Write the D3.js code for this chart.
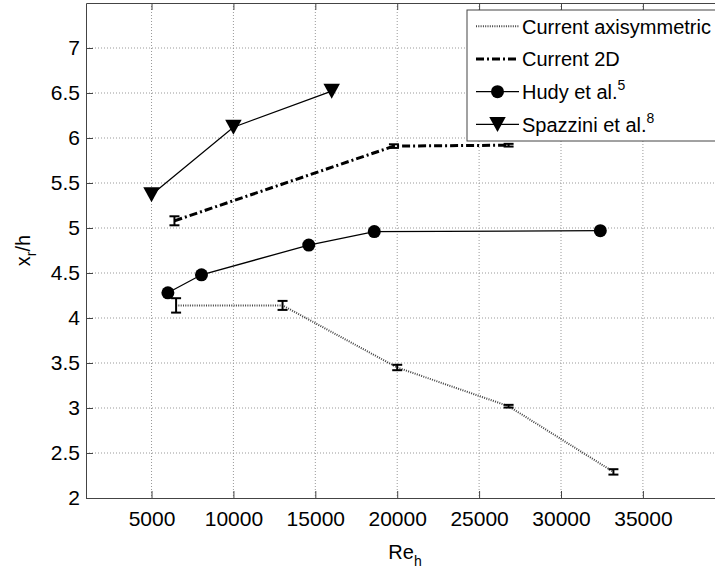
<!DOCTYPE html>
<html>
<head>
<meta charset="utf-8">
<script src="https://cdn.jsdelivr.net/npm/d3@7"></script>
<style>
  body { margin: 0; background: #fff; }
  svg { display: block; font-family: 'Liberation Sans', Arial, sans-serif; }
</style>
</head>
<body>
<div id="chart-area"></div>
<script>
// reattachment length vs Reynolds number
const axiRe = [6500, 13000, 20000, 26800, 33200]
const axiXr = [4.14, 4.14, 3.45, 3.02, 2.29]
const axiErr = [0.08, 0.05, 0.03, 0.015, 0.03]

const planarRe = [6400, 19800, 26800]
const planarXr = [5.08, 5.91, 5.92]
const planarErr = [0.05, 0.02, 0.015]

const hudyRe = [6000, 8050, 14600, 18600, 32400]
const hudyXr = [4.28, 4.48, 4.81, 4.96, 4.97]

const spazRe = [5000, 10000, 16000]
const spazXr = [5.37, 6.12, 6.52]

const xTicks = [5000, 10000, 15000, 20000, 25000, 30000, 35000]
const yTicks = [2, 2.5, 3, 3.5, 4, 4.5, 5, 5.5, 6, 6.5, 7]
const legendLabels = ['Current axisymmetric', 'Current 2D', 'Hudy et al.', 'Spazzini et al.']
const legendRefs = ['', '', '5', '8']

const margin = { top: 3, left: 86 }
const width = 638.8
const height = 495

const svg = d3.select('#chart-area')
  .append('svg')
    .attr('width', 715)
    .attr('height', 574)

svg.append('rect')
  .attr('width', 715)
  .attr('height', 574)
  .attr('fill', '#fff')

const g = svg.append('g')
  .attr('transform', `translate(${margin.left}, ${margin.top})`)

const x = d3.scaleLinear().domain([1000, 40000]).range([0, width])
const y = d3.scaleLinear().domain([2, 7.5]).range([height, 0])

// grid
g.selectAll('.vgrid').data(xTicks).enter()
  .append('line')
    .attr('x1', d => x(d)).attr('x2', d => x(d))
    .attr('y1', 0).attr('y2', height)
    .attr('stroke', '#999')
    .attr('stroke-dasharray', '1,2')
g.selectAll('.hgrid').data(yTicks.slice(1)).enter()
  .append('line')
    .attr('x1', 0).attr('x2', width)
    .attr('y1', d => y(d)).attr('y2', d => y(d))
    .attr('stroke', '#999')
    .attr('stroke-dasharray', '1,2')

// axes
g.append('g')
  .attr('transform', `translate(0, ${height})`)
  .attr('color', '#444')
  .call(d3.axisBottom(x).tickValues(xTicks).tickSize(-7).tickSizeOuter(0).tickPadding(13)
    .tickFormat(d3.format('d')))
g.append('g')
  .attr('color', '#444')
  .call(d3.axisLeft(y).tickValues(yTicks).tickSize(-7).tickSizeOuter(0).tickPadding(6)
    .tickFormat(d3.format('')))
g.append('g')
  .attr('color', '#444')
  .call(d3.axisTop(x).tickValues(xTicks).tickSize(-7).tickSizeOuter(0).tickFormat(''))

g.selectAll('.tick text')
  .attr('fill', '#000')
  .style('font-size', '21px')

// series
const line = d3.line().x(d => x(d[0])).y(d => y(d[1]))

const axi = axiRe.map((r, i) => [r, axiXr[i], axiErr[i]])
const planar = planarRe.map((r, i) => [r, planarXr[i], planarErr[i]])
const hudy = hudyRe.map((r, i) => [r, hudyXr[i]])
const spaz = spazRe.map((r, i) => [r, spazXr[i]])

g.append('path')
  .datum(axi)
  .attr('d', line)
  .attr('fill', 'none')
  .attr('stroke', '#444')
  .attr('stroke-width', 2)
  .attr('stroke-dasharray', '1,1.3')

g.append('path')
  .datum(planar)
  .attr('d', line)
  .attr('fill', 'none')
  .attr('stroke', '#000')
  .attr('stroke-width', 3)
  .attr('stroke-dasharray', '8,3,2,3')

function errorBars (data) {
  const eb = g.append('g')
    .attr('stroke', '#000')
    .attr('stroke-width', 2)
  eb.selectAll('.v').data(data).enter()
    .append('line')
      .attr('x1', d => x(d[0])).attr('x2', d => x(d[0]))
      .attr('y1', d => y(d[1] - d[2])).attr('y2', d => y(d[1] + d[2]))
  eb.selectAll('.lo').data(data).enter()
    .append('line')
      .attr('x1', d => x(d[0]) - 5).attr('x2', d => x(d[0]) + 5)
      .attr('y1', d => y(d[1] - d[2])).attr('y2', d => y(d[1] - d[2]))
  eb.selectAll('.hi').data(data).enter()
    .append('line')
      .attr('x1', d => x(d[0]) - 5).attr('x2', d => x(d[0]) + 5)
      .attr('y1', d => y(d[1] + d[2])).attr('y2', d => y(d[1] + d[2]))
}
errorBars(axi)
errorBars(planar)

g.append('path')
  .datum(hudy)
  .attr('d', line)
  .attr('fill', 'none')
  .attr('stroke', '#000')
  .attr('stroke-width', 1.3)
g.selectAll('.hudy').data(hudy).enter()
  .append('circle')
    .attr('cx', d => x(d[0]))
    .attr('cy', d => y(d[1]))
    .attr('r', 6.5)
    .attr('fill', '#000')

const triangleDown = {
  draw (context, size) {
    const w = Math.sqrt(size) * 0.75
    const h = Math.sqrt(size) * 0.68
    context.moveTo(-w, -h)
    context.lineTo(w, -h)
    context.lineTo(0, h)
    context.closePath()
  }
}
const tri = d3.symbol().type(triangleDown).size(121)

g.append('path')
  .datum(spaz)
  .attr('d', line)
  .attr('fill', 'none')
  .attr('stroke', '#000')
  .attr('stroke-width', 1.3)
g.selectAll('.spaz').data(spaz).enter()
  .append('path')
    .attr('d', tri)
    .attr('transform', d => `translate(${x(d[0])}, ${y(d[1])})`)
    .attr('fill', '#000')

// legend
const legend = svg.append('g')
  .attr('transform', 'translate(467, 10)')
legend.append('rect')
  .attr('width', 270)
  .attr('height', 131)
  .attr('fill', '#fff')
  .attr('stroke', '#444')

const rowY = i => 16.3 + 32.7 * i
const sample = legend.append('g')
sample.append('line')
  .attr('x1', 9).attr('x2', 52).attr('y1', rowY(0)).attr('y2', rowY(0))
  .attr('stroke', '#444').attr('stroke-width', 2).attr('stroke-dasharray', '1,1.3')
sample.append('line')
  .attr('x1', 9).attr('x2', 52).attr('y1', rowY(1)).attr('y2', rowY(1))
  .attr('stroke', '#000').attr('stroke-width', 3).attr('stroke-dasharray', '8,3,2,3')
sample.append('line')
  .attr('x1', 9).attr('x2', 52).attr('y1', rowY(2)).attr('y2', rowY(2))
  .attr('stroke', '#000').attr('stroke-width', 1.3)
sample.append('circle')
  .attr('cx', 30.5).attr('cy', rowY(2)).attr('r', 6.5).attr('fill', '#000')
sample.append('line')
  .attr('x1', 9).attr('x2', 52).attr('y1', rowY(3)).attr('y2', rowY(3))
  .attr('stroke', '#000').attr('stroke-width', 1.3)
sample.append('path')
  .attr('d', tri())
  .attr('transform', `translate(30.5, ${rowY(3)})`)
  .attr('fill', '#000')

legend.selectAll('.label').data(legendLabels).enter()
  .append('text')
    .attr('x', 55)
    .attr('y', (d, i) => rowY(i))
    .attr('dy', '0.36em')
    .style('font-size', '20px')
    .each(function (d, i) {
      const t = d3.select(this)
      t.append('tspan').text(d)
      if (legendRefs[i]) {
        t.append('tspan')
          .attr('dy', -9)
          .style('font-size', '14px')
          .text(legendRefs[i])
      }
    })

// axis titles
const yLabel = svg.append('text')
  .attr('transform', 'translate(29.5, 250.5) rotate(-90)')
  .attr('text-anchor', 'middle')
  .style('font-size', '20px')
yLabel.append('tspan').text('x')
yLabel.append('tspan').attr('dy', 6).style('font-size', '14px').text('r')
yLabel.append('tspan').attr('dy', -6).text('/h')

const xLabel = svg.append('text')
  .attr('x', 405)
  .attr('y', 559)
  .attr('text-anchor', 'middle')
  .style('font-size', '20px')
xLabel.append('tspan').text('Re')
xLabel.append('tspan').attr('dy', 7).style('font-size', '14px').text('h')
</script>
</body>
</html>
